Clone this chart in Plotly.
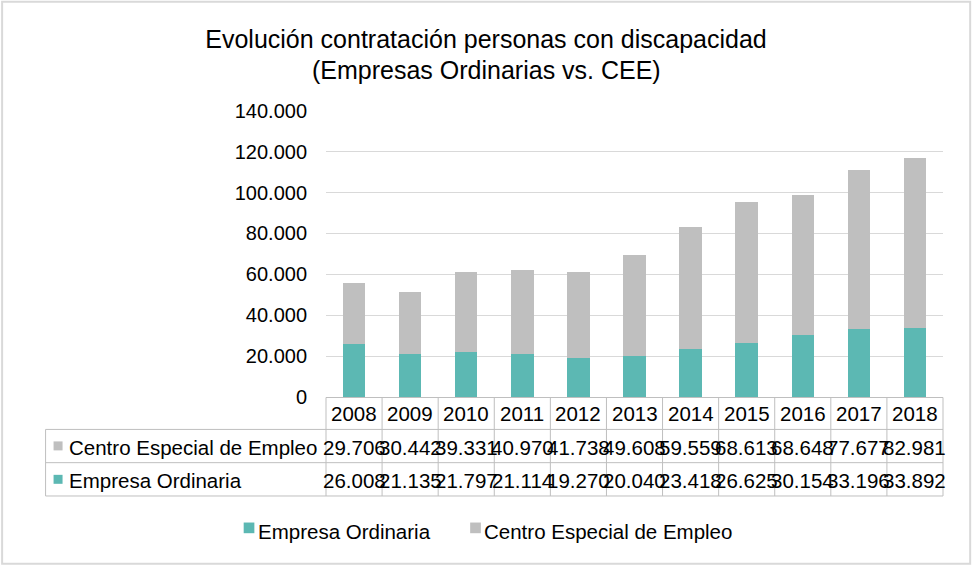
import plotly.graph_objects as go

years = ["2008", "2009", "2010", "2011", "2012", "2013", "2014", "2015", "2016", "2017", "2018"]
empresa_ordinaria = [26008, 21135, 21797, 21114, 19270, 20040, 23418, 26625, 30154, 33196, 33892]
centro_especial = [29706, 30442, 39331, 40970, 41738, 49608, 59559, 68613, 68648, 77677, 82981]
series_names = ["Empresa Ordinaria", "Centro Especial de Empleo"]
y_ticks = [0, 20000, 40000, 60000, 80000, 100000, 120000, 140000]
title_lines = ["Evolución contratación personas con discapacidad", "(Empresas Ordinarias vs. CEE)"]

TEAL = "#5cb8b3"
GREY = "#bfbfbf"
LINE = "#bfbfbf"
FONT = "Arial, Liberation Sans, sans-serif"

W, H = 972, 566
YMAX = 140400
PL, PR, PB = 325.7, 943.3, 397.5  # plot area in pixels
PT = PB - (PB - 110.7) * YMAX / 140000


def px(x):
    return (x - PL) / (PR - PL)


def py(y):
    return (PB - y) / (PB - PT)


def fmt(v):
    return f"{v:,}".replace(",", ".")


fig = go.Figure()
fig.add_trace(go.Bar(x=years, y=empresa_ordinaria, name=series_names[0],
                     marker=dict(color=TEAL, line=dict(width=0))))
fig.add_trace(go.Bar(x=years, y=centro_especial, name=series_names[1],
                     marker=dict(color=GREY, line=dict(width=0))))

shapes = []
annotations = []
n = len(years)
TF = 20.5

# table grid
row_top, row1, row2, row_bot = 398, 430, 463.3, 496.7
left_edge = 45
for yy in (row1, row2, row_bot):
    shapes.append(dict(type="line", xref="paper", yref="paper",
                       x0=px(left_edge), x1=1, y0=py(yy), y1=py(yy),
                       line=dict(color=LINE, width=1)))
for k in range(n + 1):
    shapes.append(dict(type="line", xref="paper", yref="paper",
                       x0=k / n, x1=k / n, y0=py(row_top), y1=py(row_bot),
                       line=dict(color=LINE, width=1)))
shapes.append(dict(type="line", xref="paper", yref="paper",
                   x0=px(left_edge), x1=px(left_edge), y0=py(row1), y1=py(row_bot),
                   line=dict(color=LINE, width=1)))

# year labels and values
yc_year, yc_cee, yc_eo = 414, 448, 481.5
for i, yr in enumerate(years):
    for txt, yc in ((yr, yc_year), (fmt(centro_especial[i]), yc_cee), (fmt(empresa_ordinaria[i]), yc_eo)):
        annotations.append(dict(x=i, xref="x", y=py(yc), yref="paper", text=txt,
                                showarrow=False, font=dict(size=TF, color="#000"),
                                xanchor="center", yanchor="middle"))

# row headers with colour keys
for name, color, yc in ((series_names[1], GREY, yc_cee), (series_names[0], TEAL, yc_eo)):
    shapes.append(dict(type="rect", xref="paper", yref="paper",
                       x0=px(53), x1=px(62), y0=py(yc - 6), y1=py(yc + 3),
                       fillcolor=color, line=dict(width=0)))
    annotations.append(dict(x=px(66), xref="paper", y=py(yc), yref="paper", text=name,
                            showarrow=False, font=dict(size=TF, color="#000"),
                            xanchor="left", yanchor="middle"))

# legend (drawn manually)
for name, color, sx, tx in ((series_names[0], TEAL, 243.3, 255.3),
                            (series_names[1], GREY, 470, 482)):
    shapes.append(dict(type="rect", xref="paper", yref="paper",
                       x0=px(sx), x1=px(sx + 10.7), y0=py(534), y1=py(523.3),
                       fillcolor=color, line=dict(width=0)))
    annotations.append(dict(x=px(tx), xref="paper", y=py(532), yref="paper", text=name,
                            showarrow=False, font=dict(size=TF, color="#000"),
                            xanchor="left", yanchor="middle"))

# second title line
annotations.append(dict(x=0.5, xref="paper", y=py(69.5), yref="paper", text=title_lines[1],
                        showarrow=False, font=dict(size=25, color="#000"),
                        xanchor="center", yanchor="middle"))
# fix the x of the subtitle to the figure centre
annotations[-1]["x"] = px(W / 2)

# outer border
shapes.append(dict(type="rect", xref="paper", yref="paper",
                   x0=px(1.5), x1=px(970.5), y0=py(564.5), y1=py(1.5),
                   line=dict(color="#d9d9d9", width=2), fillcolor="rgba(0,0,0,0)"))

fig.update_layout(
    width=W, height=H,
    margin=dict(l=PL, r=W - PR, t=PT, b=H - PB, autoexpand=False),
    paper_bgcolor="white", plot_bgcolor="white",
    font=dict(family=FONT, size=20, color="#000"),
    separators=",.",
    barmode="stack", bargap=0.6,
    showlegend=False,
    title=dict(text=title_lines[0],
               x=0.5, xref="container", xanchor="center",
               y=1 - 39 / H, yref="container", yanchor="middle",
               font=dict(size=25, color="#000")),
    xaxis=dict(type="category", showticklabels=False, showline=True, linecolor=LINE, linewidth=1,
               ticks="", showgrid=False, range=[-0.5, n - 0.5]),
    yaxis=dict(range=[0, YMAX], tickvals=y_ticks, tickformat=",.0f",
               showgrid=True, gridcolor="#d9d9d9", gridwidth=1, zeroline=False,
               showline=False, ticks="", ticklabelstandoff=18,
               tickfont=dict(size=20, color="#000")),
    shapes=shapes,
    annotations=annotations,
)

fig.write_html("out.html", config={"displayModeBar": False},
               post_script="document.body.style.margin='0px';")
